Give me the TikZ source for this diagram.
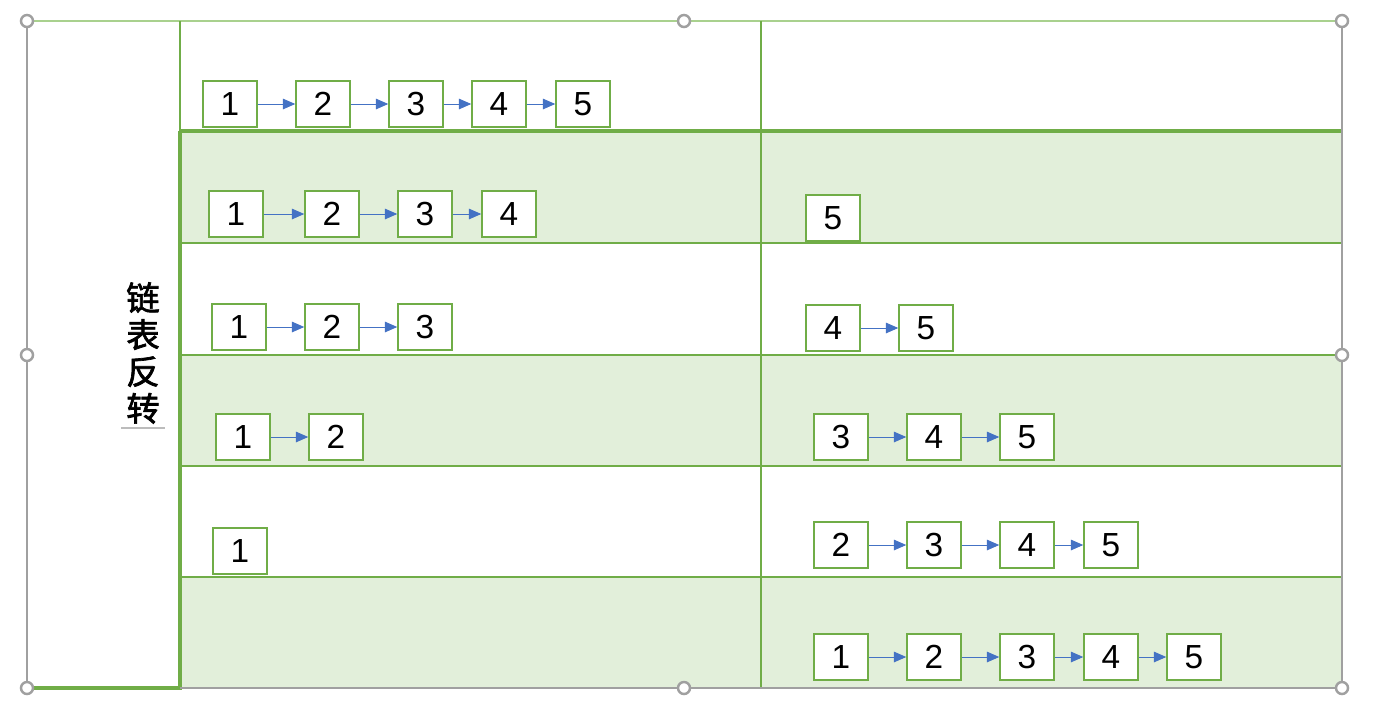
\documentclass[tikz,border=0pt]{standalone}
\usepackage{fontspec}
\setmainfont{Liberation Sans}
\newfontfamily\cjk[FakeBold=2]{Noto Sans CJK SC}
\usetikzlibrary{arrows.meta}
\begin{document}
\begin{tikzpicture}[x=0.02cm,y=-0.02cm,
  box/.style={draw=grid,line width=1pt,fill=white,minimum width=30.6pt,minimum height=26pt,inner sep=0pt,font=\fontsize{19}{22}\selectfont},
  link/.style={draw=link,line width=0.5pt,-{Triangle[length=7pt,width=6pt]}},
  handle/.style={draw=frame,line width=1.4pt,fill=white}]
 \definecolor{grid}{HTML}{70AD47}
 \definecolor{gridlight}{HTML}{A9D18E}
 \definecolor{band}{HTML}{E2EFDA}
 \definecolor{frame}{HTML}{A0A0A0}
 \definecolor{link}{HTML}{4472C4}
 \useasboundingbox (0,0) rectangle (1384,714);
 % shaded rows
 \fill [band] (180,131) rectangle (1342,243);
 \fill [band] (180,355) rectangle (1342,466);
 \fill [band] (180,577) rectangle (1342,688);
 % table lines
 \draw [gridlight,line width=1.1pt] (27,21) -- (1342,21);
 \draw [grid,line width=1.1pt] (180,21) -- (180,131);
 \draw [grid,line width=1.1pt] (761,21) -- (761,688);
 \draw [grid,line width=1.1pt] (180,243) -- (1342,243);
 \draw [grid,line width=1.1pt] (180,355) -- (1342,355);
 \draw [grid,line width=1.1pt] (180,466) -- (1342,466);
 \draw [grid,line width=1.1pt] (180,577) -- (1342,577);
 \draw [grid,line width=2.2pt] (180,131) -- (1342,131);
 \draw [grid,line width=2.2pt] (180,131) -- (180,688) -- (27,688);
 \draw [frame,line width=1.1pt] (1342,21) -- (1342,688) -- (180,688);
 \draw [frame,line width=1.1pt] (27,21) -- (27,688);
 % label
 \node [font=\cjk\fontsize{19}{21}\selectfont,align=center,inner sep=0pt] (title) at (143,353) {链\\表\\反\\转};
 \draw [frame!70,line width=0.6pt] (121,428) -- (165,428);
 % original list
 \node [box] (a1) at (230,104) {1};
 \node [box] (a2) at (323,104) {2};
 \node [box] (a3) at (416,104) {3};
 \node [box] (a4) at (499,104) {4};
 \node [box] (a5) at (583,104) {5};
 \draw [link] (a1) -- (a2);
 \draw [link] (a2) -- (a3);
 \draw [link] (a3) -- (a4);
 \draw [link] (a4) -- (a5);
 % step 1
 \node [box] (b1) at (236,214) {1};
 \node [box] (b2) at (332,214) {2};
 \node [box] (b3) at (425,214) {3};
 \node [box] (b4) at (509,214) {4};
 \node [box] (b5) at (833,218) {5};
 \draw [link] (b1) -- (b2);
 \draw [link] (b2) -- (b3);
 \draw [link] (b3) -- (b4);
 % step 2
 \node [box] (c1) at (239,327) {1};
 \node [box] (c2) at (332,327) {2};
 \node [box] (c3) at (425,327) {3};
 \node [box] (c4) at (833,328) {4};
 \node [box] (c5) at (926,328) {5};
 \draw [link] (c1) -- (c2);
 \draw [link] (c2) -- (c3);
 \draw [link] (c4) -- (c5);
 % step 3
 \node [box] (d1) at (243,437) {1};
 \node [box] (d2) at (336,437) {2};
 \node [box] (d3) at (841,437) {3};
 \node [box] (d4) at (934,437) {4};
 \node [box] (d5) at (1027,437) {5};
 \draw [link] (d1) -- (d2);
 \draw [link] (d3) -- (d4);
 \draw [link] (d4) -- (d5);
 % step 4
 \node [box] (e1) at (240,551) {1};
 \node [box] (e2) at (841,545) {2};
 \node [box] (e3) at (934,545) {3};
 \node [box] (e4) at (1027,545) {4};
 \node [box] (e5) at (1111,545) {5};
 \draw [link] (e2) -- (e3);
 \draw [link] (e3) -- (e4);
 \draw [link] (e4) -- (e5);
 % result
 \node [box] (f1) at (841,657) {1};
 \node [box] (f2) at (934,657) {2};
 \node [box] (f3) at (1027,657) {3};
 \node [box] (f4) at (1111,657) {4};
 \node [box] (f5) at (1194,657) {5};
 \draw [link] (f1) -- (f2);
 \draw [link] (f2) -- (f3);
 \draw [link] (f3) -- (f4);
 \draw [link] (f4) -- (f5);
 % selection handles
 \draw [handle] (27,21) circle (6);
 \draw [handle] (684,21) circle (6);
 \draw [handle] (1342,21) circle (6);
 \draw [handle] (27,355) circle (6);
 \draw [handle] (1342,355) circle (6);
 \draw [handle] (27,688) circle (6);
 \draw [handle] (684,688) circle (6);
 \draw [handle] (1342,688) circle (6);
\end{tikzpicture}
\end{document}
